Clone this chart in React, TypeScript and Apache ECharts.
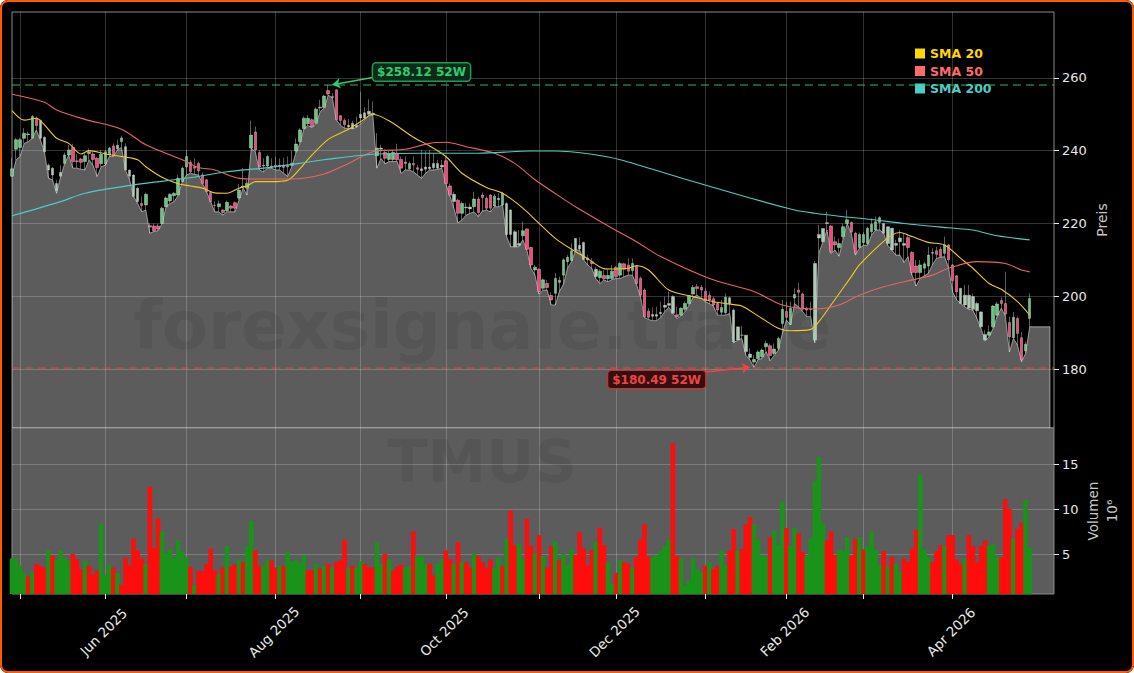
import { useEffect, useRef } from 'react';
import * as echarts from 'echarts';

const opens = [
  233, 240.4, 240.9, 243.4, 244.4, 243.4, 248.9, 248.3, 243.7, 236,
  235.2, 231, 233, 236.5, 238.8, 240.9, 237.2, 237.7, 237, 239.2,
  239.1, 237.9, 236.4, 236.4, 238.8, 241.3, 241.5, 242.5, 241.1, 234.7,
  233.3, 229.7, 225.5, 225.1, 219.4, 219.3, 219.3, 220, 224.6, 226.2,
  227.6, 227.8, 231.5, 235.5, 236.8, 235.6, 236.5, 233.3, 232, 228.5,
  225, 224.6, 223.7, 223.5, 224.8, 225.7, 227, 230, 229.7, 240.7,
  245.1, 239.5, 236, 235.8, 235.8, 236, 236, 236, 235.9, 236,
  239.9, 242.5, 246, 247.4, 248.5, 247.5, 252, 251.9, 256.5, 254.9,
  256.7, 249.6, 248.3, 247, 247.5, 247, 250, 250.4, 250.8, 250.3,
  238.6, 240.4, 239.5, 237.6, 237.6, 239.3, 237.6, 236.9, 235, 236.5,
  235.3, 235, 235.5, 235.5, 236.5, 236.5, 236, 237.2, 230.3, 228,
  226.4, 222.8, 224.5, 224.5, 224.6, 226.7, 227.8, 226.9, 227.8, 224.8,
  226.5, 225.1, 225.5, 223.7, 213.6, 214.5, 216.6, 218.5, 213.4, 207.2,
  207.4, 202.2, 203.5, 200.2, 200.8, 203.8, 205.8, 209.5, 209.8, 215.9,
  214, 214.8, 210.5, 209.5, 207.4, 205.1, 205.7, 204.8, 204.9, 207.9,
  205.8, 208.9, 208.6, 207, 208.4, 204.9, 201.7, 195.9, 195, 195,
  195.6, 197.5, 198, 199.9, 194.9, 194.8, 196.4, 198, 200.6, 202.6,
  202.4, 201.4, 200.3, 199.3, 198, 195.6, 195.5, 199.6, 196.2, 191.6,
  189.3, 189.3, 184.1, 181.9, 182.9, 183.4, 186.1, 186.4, 184.3, 185.7,
  192.5, 195.8, 192.3, 199.5, 201.7, 200.6, 196.7, 196.5, 188, 217,
  218.6, 220, 219.3, 215, 213.4, 216.4, 220, 220.3, 217.3, 213.4,
  214.8, 214.5, 217.7, 218.2, 220.3, 220, 219.1, 218.7, 214.5, 216,
  214.5, 216.1, 212, 208.3, 206.5, 207.7, 208.3, 211.8, 212.5, 212.9,
  211.8, 214.1, 208.6, 205.6, 202.2, 197.6, 200.3, 199.9, 198, 195.7,
  189.5, 189.3, 191.6, 194.8, 198.8, 198, 192.8, 188.6, 193.9, 188.6,
  185, 193.9,
];

const closes = [
  235, 243, 243, 244.8, 244.6, 249.4, 246.9, 243.4, 239.7, 234.7,
  233.3, 229, 234, 238.8, 240.2, 237, 237, 236.8, 238.6, 239.7,
  237.6, 235.4, 239, 239.7, 240.7, 238.6, 240.5, 243.5, 234.7, 233,
  227.4, 226, 224.9, 228, 219, 218, 218.5, 224.2, 227, 228,
  228.3, 232.4, 235.2, 238.4, 234.2, 235.2, 234.5, 231, 228.7, 226,
  224.9, 225.4, 223, 225.8, 224.2, 224.2, 229.2, 230.3, 231, 244.3,
  240.2, 235.5, 235.8, 238.4, 235.5, 235.5, 235.6, 235.4, 235.5, 236.5,
  241.8, 245.7, 248.9, 248.9, 246.6, 251.4, 251.7, 255, 255.6, 254.6,
  248.5, 248.3, 247.1, 246.5, 246, 246.5, 249, 249, 250, 250,
  240.7, 240.7, 237.9, 239.1, 239.5, 237.5, 235.2, 236.5, 236.5, 236.1,
  234.9, 234.5, 234.9, 235, 235.3, 235.2, 235.5, 231, 227.8, 226,
  222.8, 225.5, 224.3, 224, 226.7, 223, 227.1, 224.2, 224.2, 227.5,
  226.9, 228.3, 217, 217, 217.7, 214, 218, 212.9, 208.6, 208,
  201.3, 204.5, 202.4, 199, 204.9, 204.4, 210, 210.7, 212.5, 212.7,
  213, 210.1, 210, 209, 205.4, 206.9, 204.8, 205.7, 206.9, 205.4,
  209, 207.4, 206.9, 209, 203.5, 200.3, 194.4, 194.2, 194.5, 194.5,
  195.2, 197, 197.5, 195.3, 194.4, 196.7, 198, 200.2, 202.4, 202.1,
  201.7, 198.7, 199, 197.6, 196.2, 196.9, 199.7, 198, 187.5, 188,
  189.3, 184.8, 183.2, 182.6, 184.7, 185.2, 187, 183.7, 185.5, 188.4,
  196.4, 194.2, 196.7, 200.5, 201.1, 196.4, 196.2, 196.4, 209, 216,
  215, 220.2, 212.2, 214.1, 214.5, 219.1, 221, 217.7, 211.8, 217,
  217, 218.7, 219.8, 220.5, 221.6, 217.3, 214.5, 212.7, 214, 215,
  214, 213.4, 206.5, 206.5, 208.6, 208.9, 211.3, 212, 211.5, 210.9,
  214.1, 210, 204.3, 201.2, 198, 200.3, 196.7, 196.4, 196, 191.6,
  188, 190.2, 197.3, 197.9, 198, 195.1, 188.9, 194.2, 189.8, 182.5,
  186.8, 199.4,
];

const highs = [
  238, 243.5, 243.5, 246.2, 245.2, 249.8, 249.4, 248.6, 243.9, 236.5,
  235.5, 232, 236, 239.5, 241.6, 241.9, 239, 238, 239.3, 240.6,
  239.7, 238.3, 240.2, 240.2, 241.1, 242, 243, 244.1, 242, 234.7,
  233.5, 230, 227.4, 228.5, 220, 220, 219.9, 224.6, 227.4, 228.3,
  228.6, 233.3, 235.6, 240.2, 237.5, 237.9, 237, 234, 232.2, 228.6,
  226, 226.3, 223.9, 226.3, 225.1, 226, 230.9, 235.2, 232.1, 248.3,
  246.6, 240.2, 237.9, 238.9, 237.9, 238.4, 237.9, 238.1, 238.4, 240,
  243.4, 246.2, 249.4, 249.8, 248.9, 251.9, 254, 255.3, 258.12, 255.8,
  256.9, 249.8, 248.9, 248.7, 248.2, 249.4, 256.2, 251.9, 254.1, 253.5,
  244.8, 241.6, 240.4, 240, 240.2, 241.9, 238.4, 238.4, 237, 238.4,
  236.1, 240.2, 239.9, 240.2, 239.3, 237.5, 237.4, 238.4, 231, 228.7,
  226.7, 226, 225.7, 225.5, 228.7, 227.4, 228.5, 227.4, 228.1, 228.1,
  228.3, 228.7, 225.8, 223.9, 218.2, 218.2, 220.5, 218.7, 213.6, 208.6,
  207.7, 204.9, 204.5, 201.2, 206.3, 205.4, 210.4, 211.3, 214.5, 215.9,
  216.2, 215, 211.3, 210.4, 208.1, 207.4, 207.2, 207.4, 208.6, 208.3,
  209.5, 209.2, 210.4, 210.4, 208.6, 205.4, 202.2, 196.7, 196.9, 197.1,
  198.5, 199.9, 201.3, 200.3, 197.1, 197, 198.5, 200.3, 203.1, 203.4,
  203.1, 202.2, 201.3, 199.9, 198.5, 199, 200.8, 199.9, 196.7, 191.6,
  191.8, 189.3, 185.7, 183.8, 185.2, 185.7, 187.8, 187, 187, 188.9,
  199, 198.5, 198.5, 202.2, 203.7, 201, 197.1, 198.5, 209.7, 219.6,
  218.7, 223.2, 219.6, 216.4, 215.9, 220, 223.7, 220.5, 217.7, 217.5,
  217.7, 219.1, 221.4, 221.9, 222, 220.2, 219.1, 218.7, 215.5, 218.2,
  217.3, 216.8, 212.4, 210, 210, 209.5, 213.6, 213.2, 213.6, 213.6,
  216.4, 214.4, 208.9, 205.8, 202.2, 203.1, 203.1, 200.8, 198.5, 195.9,
  190.7, 192, 197.6, 198.5, 199.7, 206.7, 194.4, 195.7, 194.4, 190.2,
  187.5, 200.8,
];

const lows = [
  232.9, 237.5, 238.4, 242, 242.5, 243.4, 245.7, 243, 239.7, 232.4,
  232, 228.3, 232.9, 236.5, 238.8, 235.2, 235.2, 234.9, 234.7, 237.5,
  236, 232.9, 235.6, 236, 238.4, 238.4, 240.2, 240.9, 234.7, 232,
  227.4, 225.5, 223.2, 223.7, 217.3, 217.8, 218, 219.9, 224.6, 225.5,
  226, 227.8, 231.5, 233.3, 233.8, 233.5, 233.3, 231, 228.7, 226,
  223.2, 223.2, 222.3, 223.2, 223.2, 223.2, 226.5, 229.7, 227.8, 240.7,
  239.7, 234.7, 234.2, 235.2, 235.2, 234.7, 234.7, 233.8, 232.9, 235.6,
  239.3, 242, 246, 246.9, 246.4, 247.5, 250.7, 251.7, 255.3, 254.5,
  248.5, 247, 246.2, 246.1, 246.1, 246.4, 247.4, 248.5, 249.6, 249.8,
  235.2, 237.9, 236.4, 237, 237, 237, 233.8, 234.7, 234.7, 234.2,
  233.3, 232.4, 233.8, 234.7, 234.7, 234.9, 235.2, 231, 227.6, 224.2,
  220.2, 221, 222.3, 222.8, 223.2, 221.9, 223.4, 223.7, 223.2, 224.6,
  224.6, 225.1, 216.4, 213.6, 213.6, 213.6, 215.5, 212.7, 207.7, 205.8,
  200.6, 201.7, 201.7, 197.6, 197.6, 201.3, 203.3, 207.7, 209.5, 212.7,
  212.7, 210, 208.6, 207.7, 204.9, 203.5, 204.5, 204, 204.6, 204.9,
  204.9, 205.4, 205.8, 205.8, 203.4, 199.9, 194.2, 193.6, 193.3, 193.3,
  194.2, 195.8, 197, 195.3, 193.9, 194.6, 195.8, 197.6, 199.7, 200.3,
  199.4, 198.5, 198, 197.3, 194.8, 194.8, 194.8, 195.3, 187.2, 188,
  188.4, 183.8, 182.5, 180.49, 182.6, 182.9, 184.8, 182.3, 183.8, 185.2,
  189.8, 193.5, 192.1, 198, 197.1, 195.8, 194.4, 194.4, 187.2, 211.8,
  215, 218.2, 211.8, 212.7, 211, 215.9, 220, 217.3, 211.3, 213.2,
  214, 214, 216.8, 218.2, 218.2, 217.3, 214, 212.7, 211.3, 211.3,
  209.3, 210.9, 205.8, 202.8, 204.9, 205.6, 206.3, 208.6, 210.4, 210.7,
  210.9, 207.8, 201.2, 199, 198, 197.1, 196.4, 196.2, 193.9, 191.2,
  187.8, 188.9, 191.2, 194.6, 196.7, 194.6, 184.7, 188.4, 186.6, 182,
  184.3, 191.6,
];

const fadedDays = [
  7, 8, 9, 10, 11, 12, 26, 28, 29, 30, 31, 69, 83, 84, 85, 86, 87, 88, 89, 101, 102, 103, 104, 105, 106,
  109, 112, 113, 120, 122, 123, 124, 125, 139, 140, 141, 142, 144, 158, 159, 160, 161, 162, 163,
  177, 178, 179, 180, 181, 182, 197, 198, 199, 200, 201, 215, 216, 217, 218, 219, 220, 234, 235, 236,
  237, 238, 239, 240,
];

const volumes = [
  4.5, 4.5, 3.7, 2.9, 2.5, 3, 3.9, 3.7, 3.5, 5.4,
  4.8, 4.3, 5.4, 4.5, 4.3, 5, 4.4, 3.3, 4.3, 3.7,
  2.7, 3.2, 8.4, 2.7, 3.8, 3.5, 2.9, 1.6, 4.6, 3.8,
  6.7, 5.4, 4.5, 3.9, 12.5, 5.7, 9, 7.5, 5.1, 5.5,
  4.5, 6.5, 5.3, 4.6, 3.6, 1.6, 3.1, 3.1, 3.9, 5.6,
  3.2, 2.7, 3.5, 5.9, 3.6, 3.9, 4.4, 4.1, 5.8, 8.7,
  5.4, 3.7, 3.7, 4.4, 4.3, 3.5, 3.7, 3.7, 5.2, 4.2,
  4.3, 4, 4.9, 3.2, 3.2, 3.9, 3.4, 3.7, 3.9, 3.5,
  4.1, 4.3, 6.6, 3.5, 3.7, 3.5, 4.2, 3.9, 3.5, 3.5,
  6.3, 3.9, 5, 4.4, 3.1, 3.6, 3.8, 3.5, 3.6, 7.5,
  4.8, 4.8, 3.9, 3.9, 2.6, 3.9, 4.4, 5.4, 4.4, 3.9,
  6.3, 4.1, 4.1, 3.5, 5.1, 4.8, 4.1, 3.5, 4.4, 3.5,
  4.6, 3.7, 6.7, 9.8, 6, 6.1, 4.5, 8.9, 5.9, 5.1,
  7.1, 4.8, 3.5, 5.9, 6.4, 4.3, 5, 3.7, 5.6, 4.9,
  7.4, 5.6, 3.8, 5.4, 6.4, 7.9, 6, 4.1, 1.7, 2.9,
  4.3, 4.1, 3.9, 3.5, 4.7, 6.6, 8.3, 4.7, 4.7, 4.9,
  5.4, 5.9, 6.6, 17.3, 4.8, 4.5, 1.5, 2.1, 4.5, 3.3,
  3, 3.7, 4.1, 3.3, 3.7, 5.4, 3.8, 5.4, 7.8, 5.4,
  5.5, 8.3, 9.1, 8.3, 6.6, 4.8, 4.8, 6.9, 7.6, 6,
  10.8, 7.9, 5.9, 7.9, 7.3, 5.2, 4.8, 6.8, 13.1, 15.8,
  8.4, 6.5, 7.5, 4.9, 5.5, 5.3, 6.9, 4.8, 6.7, 6.9,
  5.5, 5.9, 7.5, 5.5, 3.8, 5.3, 3.6, 4.7, 3.9, 3,
  4.5, 4.1, 5.6, 7.7, 13.8, 5.5, 4.7, 4.1, 5.3, 6,
  5.9, 7.1, 7.1, 4.4, 3.9, 4.5, 7.1, 5.9, 4.1, 5.9,
  6.5, 5.9, 6.1, 4.7, 4.6, 11.1, 10, 6.7, 7.8, 8.5,
  11, 5.7,
];

// g = green bar, r = red bar, one letter per day
const volumeSides = [
  'ggggrgrrrg', 'rggggrrrgr', 'rrgggrgrrr', 'rrrgrrrggg', 'ggggrgrrrr',
  'rgrgrrgrgg', 'rrggrrgrgg', 'gggrrgrgrg', 'rrrgrggrrr', 'ggrgrrrggr',
  'gggrrggrrg', 'rgrrgrrrrg', 'grgrrggrrg', 'rgrrgrgggr', 'rrrrgrrggr',
  'grrgrrrrgg', 'gggrrggggg', 'grgrrggrrg', 'rrrggggrgg', 'grggrrgggg',
  'grrrgggrrg', 'rggggrgrgg', 'rrrrgggrrr', 'grrrrgrrrr', 'rgggrrrgrr',
  'gg',
].join('');

const sma20Days = [0, 3, 6, 8, 11, 14, 17, 19, 23, 27, 31, 33, 37, 41, 44, 47, 50, 53, 56, 58, 60, 64, 68, 71, 73, 78, 83, 86, 89, 93, 99, 103, 107, 111, 117, 121, 126, 130, 134, 138, 142, 146, 148, 152, 154, 157, 162, 168, 173, 178, 180, 185, 189, 192, 197, 199, 202, 207, 209, 214, 217, 219, 222, 226, 230, 234, 237, 241, 244, 248, 251];
const sma20Values = [251, 248.4, 248.9, 247.1, 243.4, 242, 239.1, 240, 239.1, 238.4, 237.5, 235.6, 232.7, 230.9, 230.3, 229.7, 228.4, 228.3, 229.7, 230.3, 231.5, 231.5, 231.9, 235, 237.6, 243.1, 245.9, 248, 250, 248.2, 243.7, 241.3, 238.4, 233.8, 229.9, 228.3, 224.2, 220, 215.9, 212.9, 210.3, 207.6, 207.5, 207.7, 208.4, 207.2, 201.7, 199.9, 198.5, 197.7, 197.3, 193.9, 191.2, 190.5, 190.9, 193, 197.6, 205.4, 208.6, 214.1, 216.8, 217.5, 216.4, 214.8, 214.1, 210.4, 207.7, 203.5, 201.9, 198.5, 194.8];

const sma50Days = [0, 8, 11, 18, 27, 33, 42, 46, 50, 56, 63, 69, 77, 83, 89, 97, 103, 107, 112, 119, 124, 129, 137, 140, 148, 154, 160, 172, 183, 190, 198, 204, 209, 215, 222, 227, 231, 238, 245, 249, 251];
const sma50Values = [255.5, 253.3, 251.2, 248.6, 245.9, 241.6, 237.5, 235.4, 234.7, 232.4, 232.2, 232.2, 233.6, 236.5, 239.7, 240.4, 242, 242.3, 241.1, 239.3, 236.5, 232, 226, 223.9, 218.7, 215, 210.9, 204.9, 201.3, 197.6, 196.5, 197.6, 200.3, 202.6, 204.5, 205.8, 207.7, 209.5, 209, 207.2, 206.7];

const sma200Days = [0, 12, 18, 30, 43, 53, 62, 71, 77, 90, 101, 115, 128, 134, 143, 150, 165, 182, 193, 198, 204, 212, 220, 231, 237, 243, 251];
const sma200Values = [222.1, 226, 228.3, 230.6, 232.4, 234.2, 235.2, 236.5, 237.5, 239.1, 239.3, 239.3, 239.9, 239.9, 239, 237.5, 232.5, 227, 223.7, 222.8, 222, 221.1, 220, 218.8, 218.2, 216.6, 215.5];

const monthTickDays = [2, 23, 43, 65, 86, 107, 130, 149, 171, 191, 210, 232];
const monthLabels = ['May 2025', 'Jun 2025', 'Jul 2025', 'Aug 2025', 'Sep 2025', 'Oct 2025', 'Nov 2025', 'Dec 2025', 'Jan 2026', 'Feb 2026', 'Mar 2026', 'Apr 2026'];
const labelledMonths = ['Jun 2025', 'Aug 2025', 'Oct 2025', 'Dec 2025', 'Feb 2026', 'Apr 2026'];

const priceTicks = [180, 200, 220, 240, 260];
const volumeTicks = [5, 10, 15];
const high52w = 258.12;
const low52w = 180.49;
const fillTailValue = 191.6;

const SLOTS = 258;
const PRICE_MIN = 163.8;
const PRICE_MAX = 278.1;
const VOL_MIN = 0.56;
const VOL_MAX = 19;
const FONT = '"DejaVu Sans", sans-serif';

const categories = Array.from({ length: SLOTS }, (_, i) => {
  const m = monthTickDays.indexOf(i);
  return m >= 0 ? monthLabels[m] : `d${i}`;
});
const isMonthTick = (i: number) => monthTickDays.includes(i);
const isLabelled = (i: number) => labelledMonths.includes(categories[i]);

const candleData = opens.map((o, i) => {
  const value = [o, closes[i], lows[i], highs[i]];
  return fadedDays.includes(i)
    ? { value, itemStyle: { color: '#a8cdb2', color0: '#d8b2bd' } }
    : { value };
});

const fillData: number[][] = lows.map((v, i) => [i, v]);
fillData.push([256, fillTailValue], [256, PRICE_MIN]);

const toLine = (days: number[], values: number[]) => days.map((d, i) => [d, values[i]]);

const priceNote = (text: string, day: number, y: number, color: string, fill: string, border: string) => ({
  coord: [day, y],
  symbol: 'rect',
  symbolSize: 1,
  itemStyle: { color: 'transparent' },
  label: {
    show: true,
    position: 'inside',
    formatter: text,
    color,
    fontFamily: FONT,
    fontWeight: 'bold',
    fontSize: 12,
    backgroundColor: fill,
    borderColor: border,
    borderWidth: 1.5,
    borderRadius: 3,
    padding: [3, 4, 2, 4],
  },
});

export default function App() {
  const chartRef = useRef<HTMLDivElement>(null);

  useEffect(() => {
    if (!chartRef.current) return;
    const chart = echarts.init(chartRef.current, undefined, { renderer: 'svg' });

    const gridLine = { lineStyle: { color: 'rgba(255,255,255,0.2)', width: 1 } };
    const axisText = { color: '#e8e8e8', fontFamily: FONT, fontSize: 13 };

    chart.setOption({
      animation: false,
      backgroundColor: 'transparent',
      textStyle: { fontFamily: FONT },
      grid: [
        { left: 12, right: 80, top: 12, height: 416, show: true, outerBoundsMode: 'none', borderColor: '#8a8a8a', borderWidth: 1, backgroundColor: 'transparent' },
        { left: 12, right: 80, top: 428, height: 166, show: true, outerBoundsMode: 'none', borderColor: '#8a8a8a', borderWidth: 1, backgroundColor: '#5c5c5c' },
      ],
      legend: {
        orient: 'vertical',
        left: 910,
        top: 42,
        itemWidth: 10,
        itemHeight: 10,
        itemGap: 4.5,
        selectedMode: false,
        data: [
          { name: 'SMA 20', icon: 'rect', textStyle: { color: '#ffd700' } },
          { name: 'SMA 50', icon: 'rect', textStyle: { color: '#ff6b6b' } },
          { name: 'SMA 200', icon: 'rect', textStyle: { color: '#4ecdc4' } },
        ],
        textStyle: { fontFamily: FONT, fontWeight: 'bold', fontSize: 12.5 },
      },
      xAxis: [
        {
          type: 'category',
          gridIndex: 0,
          data: categories,
          boundaryGap: false,
          axisLine: { show: false },
          axisTick: { show: false },
          axisLabel: { show: false },
          splitLine: { show: true, interval: (i: number) => isMonthTick(i), ...gridLine },
        },
        {
          type: 'category',
          gridIndex: 1,
          data: categories,
          boundaryGap: false,
          axisLine: { show: false },
          axisTick: { show: true, length: 5, interval: (i: number) => isMonthTick(i), lineStyle: { color: '#e8e8e8' } },
          axisLabel: {
            show: true,
            ...axisText,
            fontSize: 13.5,
            rotate: 45,
            align: 'center',
            verticalAlign: 'middle',
            margin: 36,
            padding: [0, 5, 0, 0],
            interval: (i: number) => isLabelled(i),
          },
          splitLine: { show: true, interval: (i: number) => isMonthTick(i), ...gridLine },
        },
      ],
      yAxis: [
        {
          type: 'value',
          gridIndex: 0,
          position: 'right',
          min: PRICE_MIN,
          max: PRICE_MAX,
          name: 'Preis',
          nameLocation: 'middle',
          nameGap: 41,
          nameRotate: 90,
          nameMoveOverlap: false,
          nameTextStyle: { color: '#c8c8c8', fontFamily: FONT, fontSize: 14 },
          axisLine: { show: false },
          axisTick: { show: true, length: 5, customValues: priceTicks, lineStyle: { color: '#e8e8e8' } },
          axisLabel: { ...axisText, margin: 8, customValues: priceTicks },
          splitLine: { show: true, ...gridLine },
        },
        {
          type: 'value',
          gridIndex: 1,
          position: 'right',
          min: VOL_MIN,
          max: VOL_MAX,
          name: 'Volumen\n10⁶',
          nameLocation: 'middle',
          nameGap: 29,
          nameRotate: 90,
          nameMoveOverlap: false,
          nameTextStyle: { color: '#c8c8c8', fontFamily: FONT, fontSize: 13.5, lineHeight: 19 },
          axisLine: { show: false },
          axisTick: { show: true, length: 5, customValues: volumeTicks, lineStyle: { color: '#e8e8e8' } },
          axisLabel: { ...axisText, margin: 8, customValues: volumeTicks },
          splitLine: { show: true, ...gridLine },
        },
      ],
      graphic: [
        {
          type: 'text',
          x: 482,
          y: 326,
          z: 2,
          silent: true,
          style: { text: 'forexsignale.trade', font: `bold 67px ${FONT}`, fill: 'rgba(0,0,0,0.07)', align: 'center', verticalAlign: 'middle' },
        },
        {
          type: 'text',
          x: 482,
          y: 461,
          z: 2,
          silent: true,
          style: { text: 'TMUS', font: `bold 59px ${FONT}`, fill: 'rgba(0,0,0,0.07)', align: 'center', verticalAlign: 'middle' },
        },
      ],
      series: [
        {
          type: 'line',
          name: 'fill',
          xAxisIndex: 0,
          yAxisIndex: 0,
          z: 1,
          symbol: 'none',
          data: fillData,
          lineStyle: { color: 'rgba(255,255,255,0.5)', width: 1 },
          areaStyle: { color: 'rgba(255,255,255,0.36)', opacity: 1, origin: 'start' },
        },
        {
          type: 'candlestick',
          name: 'candles',
          xAxisIndex: 0,
          yAxisIndex: 0,
          z: 3,
          barWidth: 3,
          data: candleData,
          itemStyle: {
            color: '#62c97c',
            color0: '#ff4279',
            borderColor: 'rgba(225,225,225,0.6)',
            borderColor0: 'rgba(225,215,218,0.6)',
            borderWidth: 0.7,
          },
          markLine: {
            silent: true,
            symbol: 'none',
            label: { show: false },
            data: [
              { yAxis: high52w, lineStyle: { color: 'rgba(46,204,113,0.6)', type: [8, 5], width: 1.5 } },
              { yAxis: low52w, lineStyle: { color: 'rgba(239,68,68,0.65)', type: [8, 5], width: 1.5 } },
              [
                { coord: [90, 260.3], symbol: 'none', lineStyle: { color: '#2ecc71', type: 'solid', width: 1.5 } },
                { coord: [79, high52w], symbol: 'arrow', symbolSize: 8 },
              ],
              [
                { coord: [171, 179.2], symbol: 'none', lineStyle: { color: '#ef4444', type: 'solid', width: 1.5 } },
                { coord: [182, low52w], symbol: 'arrow', symbolSize: 8 },
              ],
            ],
          },
          markPoint: {
            silent: true,
            data: [
              priceNote('$258.12 52W', 101, 261.6, '#2ecc71', '#0c2a18', '#1f9a55'),
              priceNote('$180.49 52W', 159, 177.1, '#ef4444', '#33100f', '#b53a3a'),
            ],
          },
        },
        {
          type: 'line',
          name: 'SMA 20',
          xAxisIndex: 0,
          yAxisIndex: 0,
          z: 4,
          symbol: 'none',
          smooth: 0.3,
          data: toLine(sma20Days, sma20Values),
          itemStyle: { color: '#ffd700' },
          lineStyle: { color: '#f0ca20', width: 1.1 },
        },
        {
          type: 'line',
          name: 'SMA 50',
          xAxisIndex: 0,
          yAxisIndex: 0,
          z: 4,
          symbol: 'none',
          smooth: 0.3,
          data: toLine(sma50Days, sma50Values),
          itemStyle: { color: '#ff6b6b' },
          lineStyle: { color: '#e86464', width: 1.1 },
        },
        {
          type: 'line',
          name: 'SMA 200',
          xAxisIndex: 0,
          yAxisIndex: 0,
          z: 4,
          symbol: 'none',
          smooth: 0.3,
          data: toLine(sma200Days, sma200Values),
          itemStyle: { color: '#4ecdc4' },
          lineStyle: { color: '#4ecdc4', width: 1.1 },
        },
        {
          type: 'bar',
          name: 'volume',
          xAxisIndex: 1,
          yAxisIndex: 1,
          z: 3,
          barWidth: 4.6,
          data: volumes,
          itemStyle: {
            color: (p: any) => (volumeSides[p.dataIndex] === 'g' ? '#1a931a' : '#ff0c0c'),
          },
        },
      ],
    });

    return () => chart.dispose();
  }, []);

  return (
    <div style={{ position: 'absolute', left: 0, top: 0, width: 1134, height: 673, background: '#000', borderRadius: 8, overflow: 'hidden' }}>
      <div ref={chartRef} style={{ position: 'absolute', left: 0, top: 0, width: 1134, height: 673 }} />
      <div style={{ position: 'absolute', inset: 0, boxSizing: 'border-box', border: '2px solid #ff5c00', borderRadius: 8, pointerEvents: 'none' }} />
    </div>
  );
}
